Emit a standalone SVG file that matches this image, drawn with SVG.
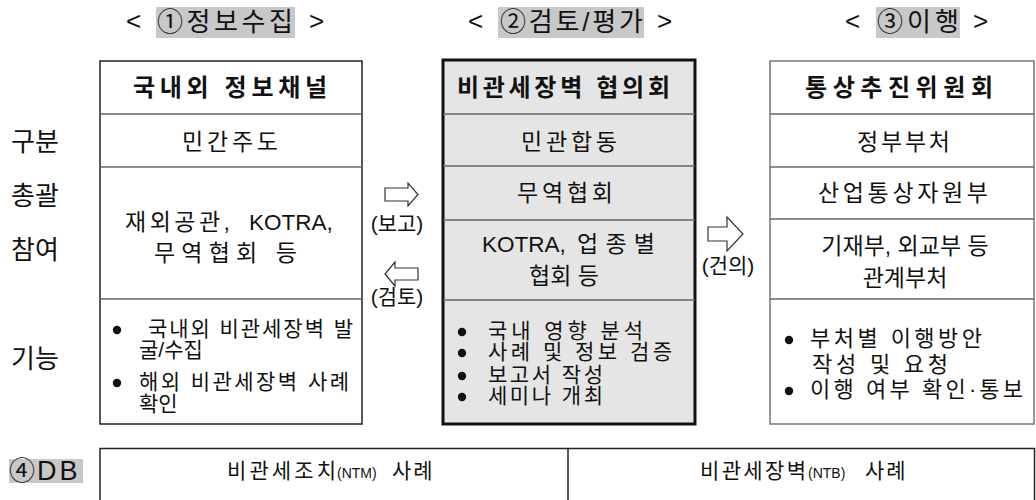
<svg xmlns="http://www.w3.org/2000/svg" width="1036" height="500" viewBox="0 0 1036 500">
<style>
  text { font-family: "Liberation Sans", "Noto Sans CJK KR", sans-serif; fill: #111; }
  .ttl { font-size: 26px; }
  .hl { fill: #c8c8c8; }
  .hdr { font-size: 24px; font-weight: bold; }
  .cell { font-size: 23px; }
  .lat { font-size: 22.5px; }
  .bul { font-size: 21px; }
  .bulr { font-size: 22px; }
  .lbl { font-size: 26px; }
  .arl { font-size: 21px; }
  .db { font-size: 21px; }
  .sm { font-size: 14px; }
  .boxL { fill: #fff; stroke: #222; stroke-width: 1.5; }
  .boxM { fill: #e5e5e5; stroke: #111; stroke-width: 3; }
  .boxR { fill: #fff; stroke: #777; stroke-width: 1.5; }
  .row { stroke: #666; stroke-width: 1.5; }
  .dot { fill: #111; }
  .arrow { fill: #fff; stroke: #333; stroke-width: 1.2; stroke-linejoin: miter; }
  .dbl { stroke: #222; stroke-width: 1.5; fill: none; }
</style>

<g id="title-collect">
  <rect class="hl" x="156" y="7" width="139" height="31"/>
  <text class="ttl" x="126" y="30">&lt;</text>
  <text class="ttl" x="157" y="31" textLength="136" lengthAdjust="spacing">①정보수집</text>
  <text class="ttl" x="309" y="30">&gt;</text>
</g>
<g id="title-review">
  <rect class="hl" x="498" y="7" width="146" height="31"/>
  <text class="ttl" x="468" y="30">&lt;</text>
  <text class="ttl" x="500" y="31" textLength="143" lengthAdjust="spacing">②검토/평가</text>
  <text class="ttl" x="657" y="30">&gt;</text>
</g>
<g id="title-implement">
  <rect class="hl" x="876" y="7" width="84" height="31"/>
  <text class="ttl" x="845" y="30">&lt;</text>
  <text class="ttl" x="877" y="31" textLength="82" lengthAdjust="spacing">③이행</text>
  <text class="ttl" x="973" y="30">&gt;</text>
</g>

<g id="row-labels">
  <text class="lbl" x="11" y="151">구분</text>
  <text class="lbl" x="11" y="205">총괄</text>
  <text class="lbl" x="11" y="259">참여</text>
  <text class="lbl" x="11" y="368">기능</text>
</g>

<g id="node-info-channel">
  <rect class="boxL" x="100" y="61" width="262" height="363"/>
  <line class="row" x1="100" y1="114" x2="362" y2="114"/>
  <line class="row" x1="100" y1="167" x2="362" y2="167"/>
  <line class="row" x1="100" y1="299" x2="362" y2="299"/>
  <text class="hdr" x="133" y="96" textLength="194" lengthAdjust="spacing">국내외 정보채널</text>
  <text class="cell" x="182" y="150" textLength="96" lengthAdjust="spacing">민간주도</text>
  <text class="cell" x="125" y="230"><tspan textLength="105" lengthAdjust="spacing">재외공관,</tspan><tspan class="lat" x="249">KOTRA,</tspan></text>
  <text class="cell" x="154" y="261" textLength="143" lengthAdjust="spacing">무역협회 등</text>
  <circle class="dot" cx="117" cy="330" r="4.2"/>
  <text class="bul" x="148" y="336" textLength="205" lengthAdjust="spacing">국내외 비관세장벽 발</text>
  <text class="bul" x="139" y="357">굴/수집</text>
  <circle class="dot" cx="117" cy="383" r="4.2"/>
  <text class="bul" x="139" y="389" textLength="210" lengthAdjust="spacing">해외 비관세장벽 사례</text>
  <text class="bul" x="139" y="410.5">확인</text>
</g>

<g id="node-ntb-council">
  <rect class="boxM" x="443" y="60" width="252" height="364"/>
  <line class="row" x1="443" y1="114" x2="695" y2="114"/>
  <line class="row" x1="443" y1="166" x2="695" y2="166"/>
  <line class="row" x1="443" y1="220" x2="695" y2="220"/>
  <line class="row" x1="443" y1="300" x2="695" y2="300"/>
  <text class="hdr" x="457" y="96" textLength="213" lengthAdjust="spacing">비관세장벽 협의회</text>
  <text class="cell" x="521" y="150" textLength="96" lengthAdjust="spacing">민관합동</text>
  <text class="cell" x="517" y="201" textLength="96" lengthAdjust="spacing">무역협회</text>
  <text class="cell" x="482" y="252"><tspan class="lat">KOTRA,</tspan><tspan x="577" textLength="78" lengthAdjust="spacing">업종별</tspan></text>
  <text class="cell" x="564" y="284" text-anchor="middle">협회 등</text>
  <circle class="dot" cx="462" cy="332" r="4.2"/>
  <text class="bul" x="488" y="338" textLength="155" lengthAdjust="spacing">국내 영향 분석</text>
  <circle class="dot" cx="462" cy="353" r="4.2"/>
  <text class="bul" x="488" y="359" textLength="184" lengthAdjust="spacing">사례 및 정보 검증</text>
  <circle class="dot" cx="462" cy="376" r="4.2"/>
  <text class="bul" x="488" y="382" textLength="115" lengthAdjust="spacing">보고서 작성</text>
  <circle class="dot" cx="462" cy="397" r="4.2"/>
  <text class="bul" x="488" y="403" textLength="115" lengthAdjust="spacing">세미나 개최</text>
</g>

<g id="node-trade-committee">
  <rect class="boxR" x="770" y="61" width="264" height="363"/>
  <line class="row" x1="770" y1="114" x2="1034" y2="114"/>
  <line class="row" x1="770" y1="167" x2="1034" y2="167"/>
  <line class="row" x1="770" y1="219" x2="1034" y2="219"/>
  <line class="row" x1="770" y1="299" x2="1034" y2="299"/>
  <text class="hdr" x="805" y="96" textLength="188" lengthAdjust="spacing">통상추진위원회</text>
  <text class="cell" x="857" y="150" textLength="93" lengthAdjust="spacing">정부부처</text>
  <text class="cell" x="818" y="201" textLength="170" lengthAdjust="spacing">산업통상자원부</text>
  <text class="cell" x="905" y="254" text-anchor="middle">기재부, 외교부 등</text>
  <text class="cell" x="905" y="286" text-anchor="middle">관계부처</text>
  <circle class="dot" cx="789" cy="340" r="4.2"/>
  <text class="bulr" x="810" y="346" textLength="172" lengthAdjust="spacing">부처별 이행방안</text>
  <text class="bulr" x="812" y="372" textLength="136" lengthAdjust="spacing">작성 및 요청</text>
  <circle class="dot" cx="789" cy="391" r="4.2"/>
  <text class="bulr" x="810" y="397" textLength="213" lengthAdjust="spacing">이행 여부 확인·통보</text>
</g>

<g id="node-db">
  <rect class="hl" x="9" y="459" width="74" height="24"/>
  <text class="ttl" x="9" y="480">④<tspan x="37" font-size="27" letter-spacing="3">DB</tspan></text>
  <path class="dbl" d="M100 500 V448.5 H1034.5 V500 M568 448.5 V500"/>
  <text class="db" x="227" y="478"><tspan textLength="109" lengthAdjust="spacing">비관세조치</tspan><tspan class="sm" x="337">(NTM)</tspan><tspan x="392" letter-spacing="2">사례</tspan></text>
  <text class="db" x="700" y="478"><tspan textLength="106" lengthAdjust="spacing">비관세장벽</tspan><tspan class="sm" x="808">(NTB)</tspan><tspan x="865" letter-spacing="2">사례</tspan></text>
</g>

<g id="connectors">
  <polygon class="arrow" points="385,188 408,188 408,183 418,194.5 408,206 408,201 385,201"/>
  <text class="arl" x="397" y="231" text-anchor="middle">(보고)</text>
  <polygon class="arrow" points="418,268 395,268 395,262 385,274 395,286 395,280 418,280"/>
  <text class="arl" x="397" y="304" text-anchor="middle">(검토)</text>
  <polygon class="arrow" points="708,227 727,227 727,217 743,234 727,251 727,241 708,241"/>
  <text class="arl" x="728" y="273" text-anchor="middle">(건의)</text>
</g>
</svg>
